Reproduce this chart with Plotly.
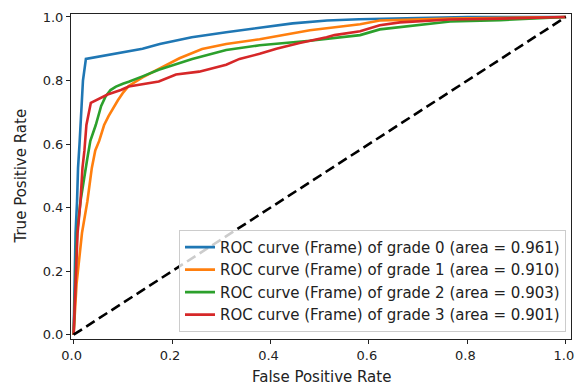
import plotly.graph_objects as go

# ---- data ----
grade_labels = [
    "ROC curve (Frame) of grade 0 (area = 0.961)",
    "ROC curve (Frame) of grade 1 (area = 0.910)",
    "ROC curve (Frame) of grade 2 (area = 0.903)",
    "ROC curve (Frame) of grade 3 (area = 0.901)",
]
colors = ["#1f77b4", "#ff7f0e", "#2ca02c", "#d62728"]

fpr_g0 = [0, 0.002, 0.004, 0.007, 0.009, 0.012, 0.016, 0.019, 0.025, 0.07, 0.14, 0.175,
          0.24, 0.31, 0.38, 0.445, 0.515, 0.58, 0.7, 0.8, 1.0]
tpr_g0 = [0, 0.15, 0.32, 0.42, 0.525, 0.6, 0.7, 0.8, 0.868, 0.88, 0.90, 0.915,
          0.936, 0.952, 0.967, 0.98, 0.989, 0.993, 0.997, 1.0, 1.0]

fpr_g1 = [0, 0.006, 0.017, 0.028, 0.037, 0.044, 0.052, 0.062, 0.071, 0.079, 0.09, 0.101,
          0.112, 0.14, 0.173, 0.215, 0.261, 0.31, 0.378, 0.48, 0.582, 0.622, 0.765, 1.0]
tpr_g1 = [0, 0.16, 0.32, 0.42, 0.525, 0.58, 0.61, 0.66, 0.688, 0.71, 0.738, 0.763,
          0.783, 0.81, 0.837, 0.87, 0.899, 0.915, 0.93, 0.958, 0.977, 0.989, 0.995, 1.0]

fpr_g2 = [0, 0.003, 0.007, 0.014, 0.024, 0.028, 0.034, 0.045, 0.056, 0.065, 0.075, 0.086,
          0.1, 0.112, 0.14, 0.173, 0.241, 0.31, 0.378, 0.445, 0.48, 0.582, 0.622, 0.765,
          0.867, 1.0]
tpr_g2 = [0, 0.16, 0.32, 0.42, 0.525, 0.556, 0.61, 0.66, 0.72, 0.75, 0.77, 0.781,
          0.79, 0.796, 0.813, 0.834, 0.868, 0.896, 0.911, 0.921, 0.925, 0.943, 0.961, 0.986,
          0.99, 1.0]

fpr_g3 = [0, 0.004, 0.008, 0.014, 0.018, 0.022, 0.026, 0.035, 0.048, 0.069, 0.096, 0.112,
          0.173, 0.208, 0.255, 0.31, 0.337, 0.378, 0.412, 0.459, 0.514, 0.53, 0.582, 0.622,
          0.663, 0.765, 0.867, 1.0]
tpr_g3 = [0, 0.16, 0.32, 0.42, 0.525, 0.58, 0.66, 0.73, 0.74, 0.756, 0.77, 0.781,
          0.797, 0.819, 0.828, 0.85, 0.868, 0.884, 0.9, 0.918, 0.936, 0.943, 0.955, 0.974,
          0.983, 0.992, 0.995, 1.0]

diag_x = [0, 1]
diag_y = [0, 1]

tick_vals = [0.0, 0.2, 0.4, 0.6, 0.8, 1.0]
tick_text = ["0.0", "0.2", "0.4", "0.6", "0.8", "1.0"]

# ---- figure ----
fig = go.Figure()
series = [(fpr_g0, tpr_g0), (fpr_g1, tpr_g1), (fpr_g2, tpr_g2), (fpr_g3, tpr_g3)]
for (fx, ty), name, c in zip(series, grade_labels, colors):
    fig.add_trace(go.Scatter(x=fx, y=ty, mode="lines", name=name,
                             line=dict(color=c, width=2.6)))
fig.add_trace(go.Scatter(x=diag_x, y=diag_y, mode="lines", showlegend=False,
                         line=dict(color="black", width=2.6, dash="10px,5px")))

font = "DejaVu Sans, sans-serif"
fs_tick = 13
fs_text = 15
axis_common = dict(
    showgrid=False, zeroline=False, showline=True, linecolor="#222", linewidth=1,
    mirror=True, ticks="outside", ticklen=4, tickcolor="#222", automargin=False,
    tickvals=tick_vals, ticktext=tick_text, ticklabeloverflow="allow",
    tickfont=dict(family=font, size=fs_tick, color="#222"),
)
fig.update_layout(
    width=576, height=385,
    margin=dict(l=71, r=5, t=14, b=46),
    paper_bgcolor="white", plot_bgcolor="white",
    font=dict(family=font, size=fs_text, color="#222"),
    xaxis=dict(range=[-0.0053, 1.0105], ticklabelshift=-2, **axis_common),
    yaxis=dict(range=[-0.0135, 1.0094], **axis_common),
    legend=dict(x=0.99, xanchor="right", y=0.022, yanchor="bottom",
                bgcolor="rgba(255,255,255,0.8)", bordercolor="#cccccc", borderwidth=1,
                font=dict(family=font, size=fs_text, color="#222"), tracegroupgap=0),
    showlegend=True,
    hovermode=False,
    annotations=[
        dict(text="False Positive Rate", xref="paper", yref="paper", x=0.5, y=-0.117,
             xanchor="center", yanchor="middle", showarrow=False,
             font=dict(family=font, size=fs_text, color="#222")),
        dict(text="True Positive Rate", xref="paper", yref="paper", x=-0.102, y=0.5,
             xanchor="center", yanchor="middle", showarrow=False, textangle=-90,
             font=dict(family=font, size=fs_text, color="#222")),
    ],
)

fig.write_html(
    "out.html",
    config={"displayModeBar": False},
    post_script="document.body.style.margin='0';document.body.style.overflow='hidden';",
)
